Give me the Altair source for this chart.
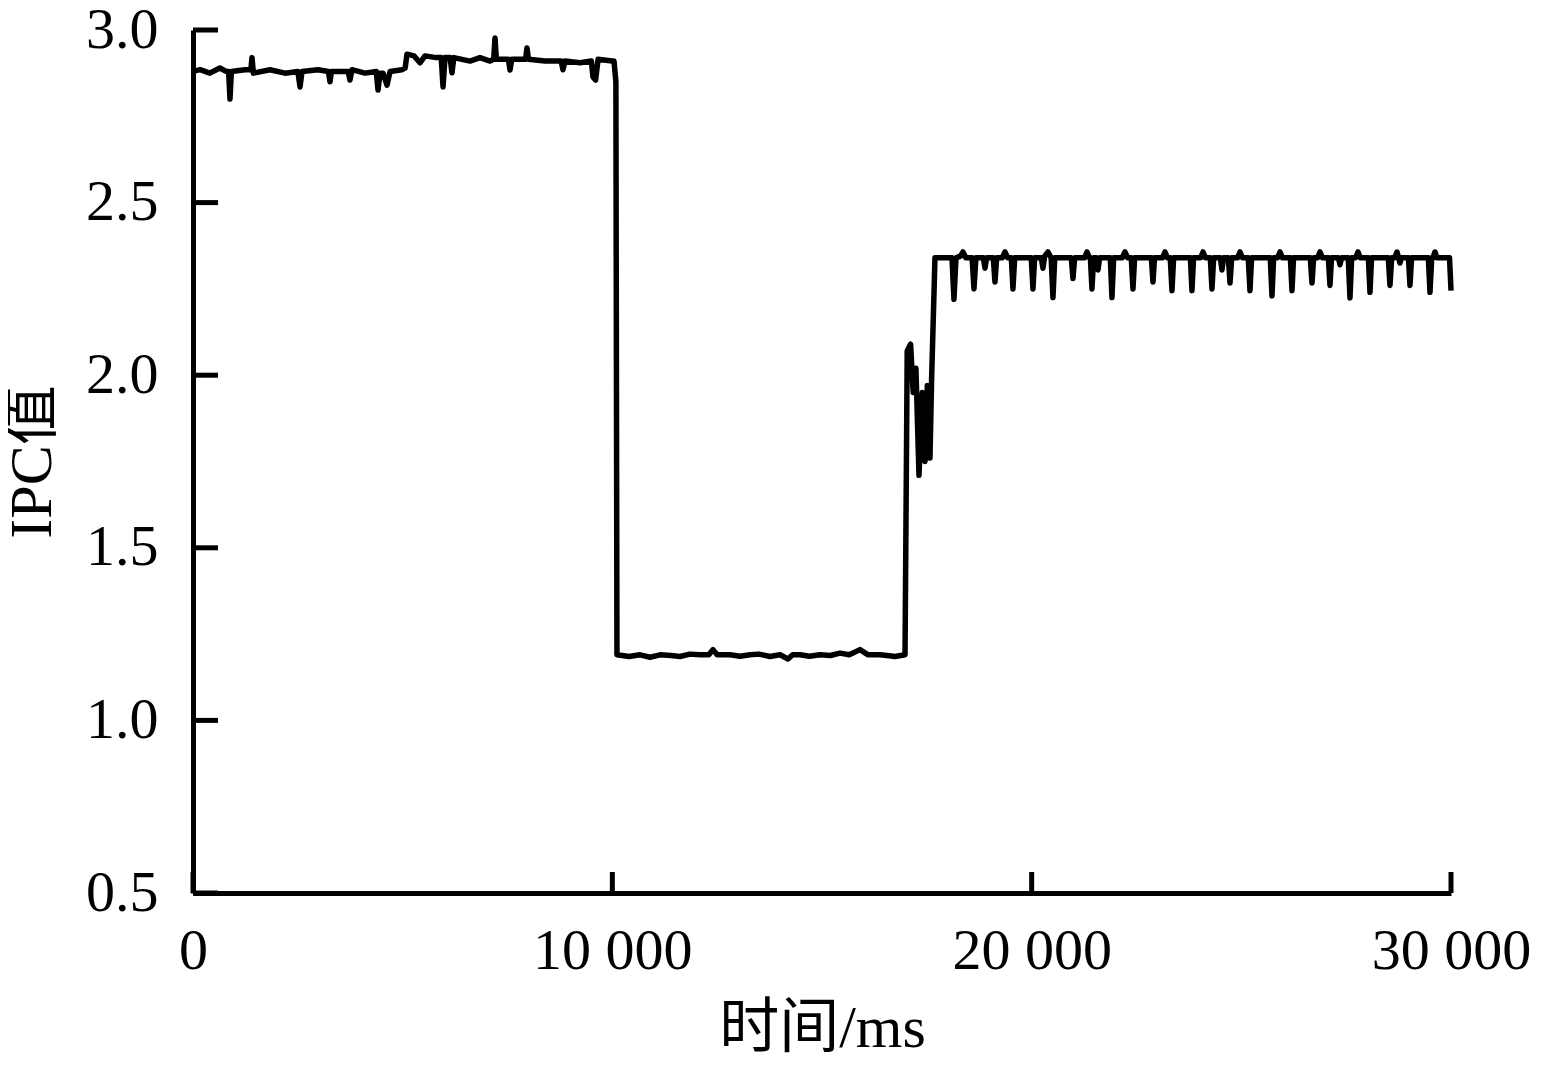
import altair as alt
import pandas as pd

# ---- data (time in ms, IPC value) ----
phase1_t = [0, 170, 400, 640, 790, 850, 882, 915, 1240, 1380, 1407, 1440, 1836, 2194, 2500,
            2552, 2600, 2981, 3230, 3267, 3300, 3700, 3744, 3790, 4102, 4370, 4412, 4460,
            4531, 4626, 4700, 4984, 5060, 5103, 5270, 5413, 5533, 5795, 5920, 5962, 6010,
            6130, 6176, 6220, 6606, 6844, 7083, 7170, 7202, 7235, 7520, 7560, 7600, 7930,
            7965, 8000, 8394, 8780, 8823, 8870, 9229, 9500, 9539, 9600, 9660, 9992, 10040,
            10085]
phase1_v = [2.88, 2.885, 2.875, 2.89, 2.88, 2.88, 2.80, 2.88, 2.885, 2.885, 2.92, 2.875,
            2.885, 2.875, 2.88, 2.835, 2.88, 2.885, 2.88, 2.85, 2.88, 2.88, 2.855, 2.885,
            2.875, 2.88, 2.826, 2.875, 2.875, 2.84, 2.88, 2.885, 2.89, 2.93, 2.925, 2.905,
            2.925, 2.92, 2.92, 2.835, 2.92, 2.92, 2.876, 2.92, 2.91, 2.92, 2.91, 2.915,
            2.977, 2.915, 2.915, 2.884, 2.915, 2.915, 2.948, 2.915, 2.91, 2.91, 2.885, 2.91,
            2.905, 2.91, 2.864, 2.855, 2.915, 2.91, 2.91, 2.85]

phase2_t = [10110, 10400, 10660, 10900, 11137, 11400, 11613, 11850, 12090, 12300, 12400,
            12500, 12806, 13050, 13283, 13500, 13760, 14000, 14189, 14300, 14475, 14700,
            14952, 15200, 15429, 15650, 15906, 16100, 16383, 16600, 16741, 16980]
phase2_v = [1.19, 1.185, 1.19, 1.183, 1.19, 1.188, 1.185, 1.192, 1.19, 1.19, 1.205, 1.19,
            1.19, 1.186, 1.19, 1.192, 1.185, 1.19, 1.178, 1.19, 1.19, 1.186, 1.19, 1.188,
            1.195, 1.19, 1.205, 1.19, 1.19, 1.187, 1.185, 1.19]

phase3_t = [17032, 17112, 17175, 17240, 17313, 17392, 17456, 17512, 17575, 17615, 17694]
phase3_v = [2.07, 2.09, 1.95, 2.02, 1.71, 1.95, 1.75, 1.97, 1.76, 1.995, 2.34]

phase4_t = [18100, 18147, 18195, 18300, 18362, 18430, 18580, 18624, 18670, 18850, 18887,
            18925, 19085, 19125, 19165, 19300, 19364, 19430, 19515, 19554, 19595, 19990,
            20031, 20070, 20230, 20270, 20310, 20389, 20465, 20508, 20550, 20945, 20985,
            21025, 21260, 21319, 21380, 21400, 21438, 21478, 21540, 21582, 21620, 21875,
            21915, 21955, 22160, 22225, 22290, 22375, 22416, 22455, 22855, 22893, 22930,
            23120, 23180, 23240, 23305, 23346, 23385, 23785, 23823, 23860, 24030, 24086,
            24140, 24260, 24300, 24340, 24500, 24538, 24575, 24690, 24730, 24770, 24910,
            24968, 25025, 25165, 25206, 25245, 25690, 25731, 25770, 25865, 25922, 25980,
            26170, 26208, 26245, 26645, 26685, 26725, 26820, 26876, 26935, 27075, 27114,
            27150, 27315, 27353, 27390, 27550, 27591, 27630, 27725, 27782, 27840, 28030,
            28068, 28105, 28505, 28545, 28585, 28660, 28712, 28750, 28783, 28815, 28985,
            29022, 29060, 29460, 29499, 29540, 29570, 29618, 29665, 29965, 30000]
phase4_v = [2.34, 2.22, 2.34, 2.345, 2.357, 2.34, 2.34, 2.25, 2.34, 2.34, 2.31,
            2.34, 2.34, 2.27, 2.34, 2.34, 2.357, 2.34, 2.34, 2.25, 2.34, 2.34,
            2.25, 2.34, 2.34, 2.31, 2.345, 2.357, 2.34, 2.225, 2.34, 2.34, 2.28,
            2.34, 2.34, 2.357, 2.34, 2.34, 2.25, 2.34, 2.34, 2.305, 2.34, 2.34,
            2.225, 2.34, 2.34, 2.357, 2.34, 2.34, 2.25, 2.34, 2.34, 2.27, 2.34,
            2.34, 2.357, 2.34, 2.34, 2.245, 2.34, 2.34, 2.245, 2.34, 2.34, 2.357,
            2.34, 2.34, 2.25, 2.34, 2.34, 2.305, 2.34, 2.34, 2.267, 2.34, 2.34,
            2.357, 2.34, 2.34, 2.245, 2.34, 2.34, 2.23, 2.34, 2.34, 2.357, 2.34,
            2.34, 2.245, 2.34, 2.34, 2.267, 2.34, 2.34, 2.357, 2.34, 2.34, 2.26,
            2.34, 2.34, 2.32, 2.34, 2.34, 2.224, 2.34, 2.34, 2.357, 2.34, 2.34,
            2.24, 2.34, 2.34, 2.26, 2.34, 2.34, 2.357, 2.34, 2.325, 2.34, 2.34,
            2.26, 2.34, 2.34, 2.24, 2.34, 2.34, 2.357, 2.34, 2.34, 2.245]

x_ticks = [0, 10000, 20000, 30000]
y_ticks = [0.5, 1.0, 1.5, 2.0, 2.5, 3.0]

df = pd.DataFrame({
    "t": phase1_t + phase2_t + phase3_t + phase4_t,
    "v": phase1_v + phase2_v + phase3_v + phase4_v,
})

W, H = 1258, 863
xscale = alt.Scale(domain=[0, 30000], nice=False, zero=False)
yscale = alt.Scale(domain=[0.5, 3.0], nice=False, zero=False)

line = alt.Chart(df).mark_line(color="black", strokeWidth=5.5, strokeJoin="round").encode(
    x=alt.X("t:Q", scale=xscale,
            axis=alt.Axis(values=x_ticks, title="时间/ms", labelPadding=29, titlePadding=19,
                          labelExpr="replace(format(datum.value, ','), ',', ' ')",
                          labelFlush=False)),
    y=alt.Y("v:Q", scale=yscale,
            axis=alt.Axis(values=y_ticks, format=".1f", title="IPC值", labelPadding=35,
                          titlePadding=22)),
)

xt = alt.Chart(pd.DataFrame({"t": x_ticks})).mark_rule(color="black", strokeWidth=5).encode(
    x=alt.X("t:Q", scale=xscale), y=alt.value(H), y2=alt.value(H - 21)
)
yt = alt.Chart(pd.DataFrame({"v": y_ticks})).mark_rule(color="black", strokeWidth=5).encode(
    y=alt.Y("v:Q", scale=yscale), x=alt.value(0), x2=alt.value(25)
)

chart = alt.layer(line, xt, yt).properties(
    width=W, height=H,
    autosize=alt.AutoSizeParams(type="none"),
    padding={"left": 185, "top": 22, "right": 84, "bottom": 167},
).configure_view(strokeWidth=0).configure_axis(
    domainColor="black", domainWidth=5, ticks=False, grid=False,
    labelFont="Liberation Serif", labelFontSize=58, labelColor="black",
    titleFont="Liberation Serif, Noto Sans CJK SC", titleFontSize=60,
    titleFontWeight="normal", titleColor="black",
)

chart.save("out.html", embed_options={"renderer": "svg", "actions": False})
